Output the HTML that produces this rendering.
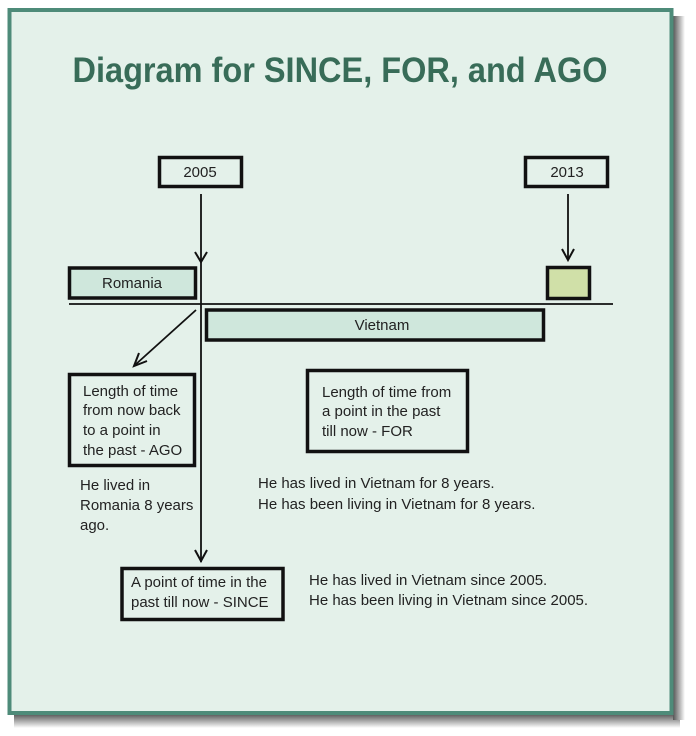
<!DOCTYPE html>
<html><head><meta charset="utf-8"><style>
html,body{margin:0;padding:0;background:#fff;}
svg{display:block;}
text{font-family:"Liberation Sans",sans-serif;fill:#222;}
</style></head><body>
<svg width="696" height="736" viewBox="0 0 696 736" xmlns="http://www.w3.org/2000/svg">
<defs>
<linearGradient id="sh" x1="0" y1="0" x2="0" y2="1"><stop offset="0" stop-color="#555"/><stop offset="1" stop-color="#fff"/></linearGradient>
<linearGradient id="shr" x1="0" y1="0" x2="1" y2="0"><stop offset="0" stop-color="#555"/><stop offset="1" stop-color="#fff"/></linearGradient>
</defs>
<rect x="14" y="714" width="666" height="14" fill="url(#sh)"/>
<rect x="673" y="16" width="12" height="704" fill="url(#shr)"/>
<rect x="9.5" y="10" width="662" height="703" fill="#e4f1ea" stroke="#4e8b79" stroke-width="4"/>
<text x="340" y="82" text-anchor="middle" font-size="35" font-weight="bold" style="fill:#386c58;font-family:'Liberation Sans Narrow','Liberation Sans',sans-serif" textLength="535" lengthAdjust="spacingAndGlyphs">Diagram for SINCE, FOR, and AGO</text>
<g stroke="#111" fill="none">
<rect x="159.5" y="157.5" width="82" height="29" stroke-width="3.5" fill="#e4f1ea"/>
<rect x="525.5" y="157.5" width="82" height="29" stroke-width="3.5" fill="#e4f1ea"/>
<rect x="69.5" y="268" width="126" height="30" stroke-width="3.5" fill="#cfe7dc"/>
<rect x="547.5" y="267.5" width="42" height="31" stroke-width="3.5" fill="#d0e0a8"/>
<rect x="206.5" y="310" width="337" height="30" stroke-width="3.5" fill="#cfe7dc"/>
<rect x="69.5" y="374.5" width="125" height="91" stroke-width="3.5"/>
<rect x="307.5" y="370.5" width="160" height="81" stroke-width="3.5"/>
<rect x="122" y="568.5" width="161" height="51" stroke-width="3.5"/>
<line x1="69" y1="304" x2="613" y2="304" stroke-width="1.8"/>
<line x1="201" y1="194" x2="201" y2="562" stroke-width="1.8"/>
<line x1="568" y1="194" x2="568" y2="260" stroke-width="1.8"/>
<line x1="196" y1="310" x2="135" y2="365" stroke-width="1.8"/>
<polyline points="195,252 201,262 207,252" stroke-width="2"/>
<polyline points="562,249 568,260 574,249" stroke-width="2"/>
<polyline points="195,550 201,561 207,550" stroke-width="2"/>
<polyline points="147,361 134,366 139,353" stroke-width="2"/>
</g>
<g font-size="15">
<text x="200" y="177" text-anchor="middle">2005</text>
<text x="567" y="177" text-anchor="middle">2013</text>
<text x="132" y="288" text-anchor="middle">Romania</text>
<text x="382" y="330" text-anchor="middle">Vietnam</text>
<text x="83" y="396">Length of time</text>
<text x="83" y="415">from now back</text>
<text x="83" y="435">to a point in</text>
<text x="83" y="455">the past - AGO</text>
<text x="322" y="397">Length of time from</text>
<text x="322" y="416">a point in the past</text>
<text x="322" y="436">till now - FOR</text>
<text x="80" y="490">He lived in</text>
<text x="80" y="510">Romania 8 years</text>
<text x="80" y="530">ago.</text>
<text x="258" y="488">He has lived in Vietnam for 8 years.</text>
<text x="258" y="509">He has been living in Vietnam for 8 years.</text>
<text x="131" y="587">A point of time in the</text>
<text x="131" y="607">past till now - SINCE</text>
<text x="309" y="585">He has lived in Vietnam since 2005.</text>
<text x="309" y="605">He has been living in Vietnam since 2005.</text>
</g>
</svg>
</body></html>
